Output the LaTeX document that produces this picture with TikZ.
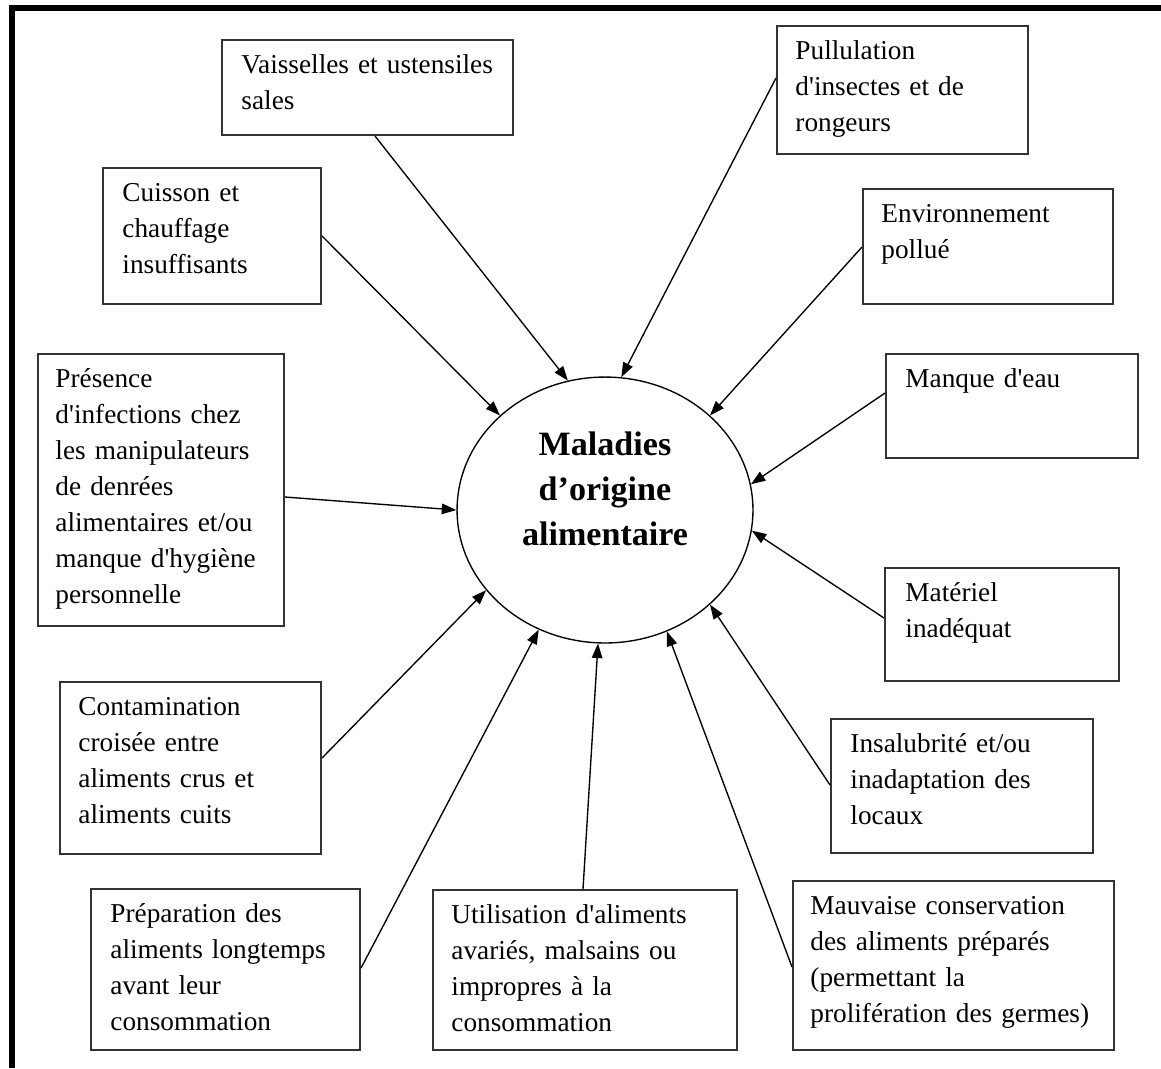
\documentclass[tikz,border=0pt]{standalone}
\usepackage{fontspec}
\setmainfont{Liberation Serif}
\usetikzlibrary{shapes.geometric,arrows.meta}
\begin{document}
\begin{tikzpicture}[x=0.44pt,y=-0.44pt,
  causebox/.style={draw=black!80, line width=0.9pt, rectangle, inner sep=0pt, anchor=north west},
  sz/.style 2 args={minimum width=#1*0.44pt, minimum height=#2*0.44pt},
  causetext/.style={anchor=base west, inner sep=0pt, text width=140pt, align=left,
    font=\fontsize{12pt}{15.84pt}\selectfont},
  hub/.style={ellipse, draw, line width=0.6pt, inner sep=0pt,
    minimum width=130.2pt, minimum height=117pt},
  hubtext/.style={anchor=base, inner sep=0pt, text width=100pt, align=center,
    font=\fontsize{15pt}{19.8pt}\selectfont\bfseries},
  feed/.style={draw, line width=0.6pt, -{Triangle[length=6.4pt,width=4.6pt]}}
]
\newcommand\ap{\textquotesingle}
\useasboundingbox (0,0) rectangle (1161,1068);

% frame
\draw[line width=2.7pt] (12,1068) -- (12,8) -- (1161,8);

% central ellipse
\node[hub] (ell) at (605,510) {};
\node[hubtext] (title) at ([shift={(0,-55)}]ell.center) {Maladies\\d’origine\\alimentaire};

% cause boxes
\node[causebox, sz={291}{95}]  (b1)  at (221,39)  {};
\node[causebox, sz={251}{128}] (b2)  at (776,25)  {};
\node[causebox, sz={218}{136}] (b3)  at (102,167) {};
\node[causebox, sz={250}{115}] (b4)  at (862,188) {};
\node[causebox, sz={252}{104}] (b5)  at (885,353) {};
\node[causebox, sz={246}{272}] (b6)  at (37,353)  {};
\node[causebox, sz={234}{113}] (b7)  at (884,567) {};
\node[causebox, sz={261}{172}] (b8)  at (59,681)  {};
\node[causebox, sz={262}{134}] (b9)  at (830,718) {};
\node[causebox, sz={269}{161}] (b10) at (90,888)  {};
\node[causebox, sz={304}{160}] (b11) at (432,889) {};
\node[causebox, sz={321}{169}] (b12) at (792,880) {};

% box texts
\node[causetext] (t1)  at ([shift={(20,34)}]b1.north west)  {Vaisselles et ustensiles\\sales};
\node[causetext] (t2)  at ([shift={(19,34)}]b2.north west)  {Pullulation\\d\ap insectes et de\\rongeurs};
\node[causetext] (t3)  at ([shift={(20,34)}]b3.north west)  {Cuisson et\\chauffage\\insuffisants};
\node[causetext] (t4)  at ([shift={(19,34)}]b4.north west)  {Environnement\\pollué};
\node[causetext] (t5)  at ([shift={(20,34)}]b5.north west)  {Manque d\ap eau};
\node[causetext] (t6)  at ([shift={(18,34)}]b6.north west)  {Présence\\d\ap infections chez\\les manipulateurs\\de denrées\\alimentaires et/ou\\manque d\ap hygiène\\personnelle};
\node[causetext] (t7)  at ([shift={(21,34)}]b7.north west)  {Matériel\\inadéquat};
\node[causetext] (t8)  at ([shift={(19,34)}]b8.north west)  {Contamination\\croisée entre\\aliments crus et\\aliments cuits};
\node[causetext] (t9)  at ([shift={(20,34)}]b9.north west)  {Insalubrité et/ou\\inadaptation des\\locaux};
\node[causetext] (t10) at ([shift={(20,34)}]b10.north west) {Préparation des\\aliments longtemps\\avant leur\\consommation};
\node[causetext] (t11) at ([shift={(19,34)}]b11.north west) {Utilisation d\ap aliments\\avariés, malsains ou\\impropres à la\\consommation};
\node[causetext] (t12) at ([shift={(18,34)}]b12.north west) {Mauvaise conservation\\des aliments préparés\\(permettant la\\prolifération des germes)};

% arrows into the ellipse
\draw[feed] ([shift={(154,0)}]b1.south west)  -- (ell.106.3);
\draw[feed] ([shift={(0,53)}]b2.north west)   -- (ell.83);
\draw[feed] ([shift={(0,69)}]b3.north east)   -- (ell.138.4);
\draw[feed] ([shift={(0,59)}]b4.north west)   -- (ell.42.7);
\draw[feed] ([shift={(0,40)}]b5.north west)   -- (ell.10.7);
\draw[feed] ([shift={(0,144)}]b6.north east)  -- (ell.180);
\draw[feed] ([shift={(0,51)}]b7.north west)   -- (ell.-8.3);
\draw[feed] ([shift={(0,77)}]b8.north east)   -- (ell.214.4);
\draw[feed] ([shift={(0,67)}]b9.north west)   -- (ell.-42.1);
\draw[feed] ([shift={(0,80)}]b10.north east)  -- (ell.241.7);
\draw[feed] ([shift={(151,0)}]b11.north west) -- (ell.267.8);
\draw[feed] ([shift={(0,87)}]b12.north west)  -- (ell.297.3);
\end{tikzpicture}
\end{document}
